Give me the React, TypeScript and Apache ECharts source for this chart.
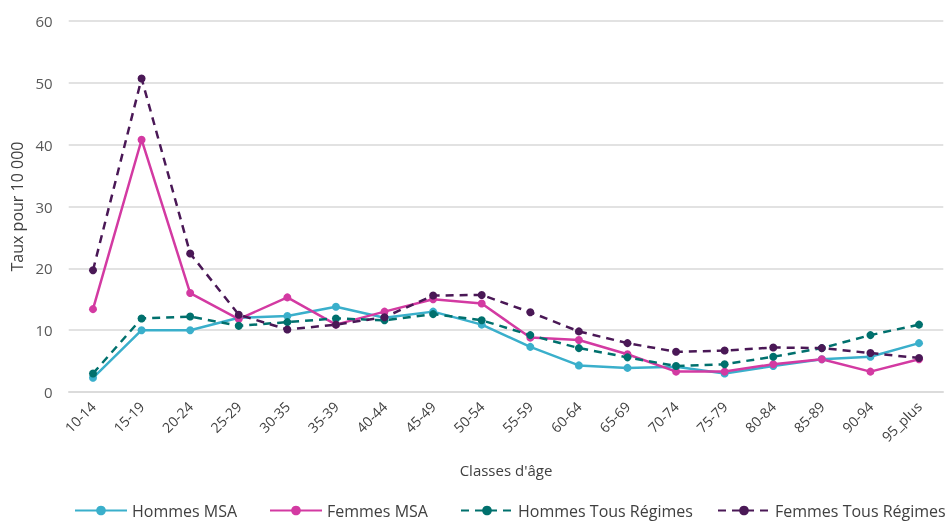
import React, { useEffect, useRef } from "react";
import * as echarts from "echarts";

const categories = ["10-14","15-19","20-24","25-29","30-35","35-39","40-44","45-49","50-54","55-59","60-64","65-69","70-74","75-79","80-84","85-89","90-94","95_plus"];
const hommesMSA = [2.3, 10.0, 10.0, 12.0, 12.3, 13.8, 12.0, 13.0, 10.9, 7.3, 4.3, 3.9, 4.1, 3.0, 4.2, 5.3, 5.7, 7.9];
const femmesMSA = [13.4, 40.8, 16.0, 11.8, 15.3, 10.9, 13.0, 15.0, 14.3, 8.8, 8.4, 6.1, 3.3, 3.3, 4.5, 5.3, 3.3, 5.3];
const hommesTR = [3.0, 11.9, 12.2, 10.7, 11.3, 11.9, 11.6, 12.6, 11.6, 9.2, 7.1, 5.6, 4.2, 4.5, 5.7, 7.1, 9.2, 10.9];
const femmesTR = [19.7, 50.7, 22.4, 12.5, 10.1, 10.9, 12.1, 15.6, 15.7, 12.9, 9.8, 7.9, 6.5, 6.7, 7.2, 7.1, 6.3, 5.5];
const yTicks = [0, 60, 10];

const FONT = "Open Sans";

export default function App() {
  const ref = useRef<HTMLDivElement>(null);
  useEffect(() => {
    if (!ref.current) return;
    const chart = echarts.init(ref.current, null, { renderer: "svg" });
    const mk = (name: string, data: number[], color: string, dashed: boolean) => ({
      name,
      type: "line",
      data,
      symbol: "circle",
      symbolSize: 8,
      itemStyle: { color },
      lineStyle: { color, width: 2.5, type: dashed ? [8, 6] : "solid" },
    });
    const legendBase = (left: number, name: string) => ({
      left,
      top: 502,
      padding: 0,
      data: [name],
      itemWidth: 52,
      itemHeight: 12,
      textStyle: { fontFamily: FONT, fontSize: 16, lineHeight: 17, color: "#404040" },
    });
    chart.setOption({
      animation: false,
      textStyle: { fontFamily: FONT },
      grid: { left: 68.7, right: 2.7, top: 21, bottom: 131, containLabel: false },
      legend: [
        legendBase(74, "Hommes MSA"),
        legendBase(269, "Femmes MSA"),
        legendBase(460, "Hommes Tous Régimes"),
        legendBase(717, "Femmes Tous Régimes"),
      ],
      xAxis: {
        type: "category",
        data: categories,
        boundaryGap: true,
        name: "Classes d'âge",
        nameLocation: "middle",
        nameGap: 70,
        nameTextStyle: { fontFamily: FONT, fontSize: 15, color: "#404040" },
        axisLine: { lineStyle: { color: "#D9D9D9", width: 1.5 } },
        axisTick: { show: false },
        axisLabel: { rotate: 45, margin: 12, fontFamily: FONT, fontSize: 14, color: "#404040", interval: 0 },
      },
      yAxis: {
        type: "value",
        min: yTicks[0],
        max: yTicks[1],
        interval: yTicks[2],
        name: "Taux pour 10 000",
        nameLocation: "middle",
        nameGap: 41,
        nameTextStyle: { fontFamily: FONT, fontSize: 16, color: "#404040" },
        axisLine: { show: false },
        axisTick: { show: false },
        axisLabel: { margin: 16, fontFamily: FONT, fontSize: 15, color: "#595959" },
        splitLine: { lineStyle: { color: "#D9D9D9", width: 1.5 } },
      },
      series: [
        mk("Hommes MSA", hommesMSA, "#3AAFCB", false),
        mk("Femmes MSA", femmesMSA, "#D33AA2", false),
        mk("Hommes Tous Régimes", hommesTR, "#00706D", true),
        mk("Femmes Tous Régimes", femmesTR, "#4A1856", true),
      ],
    });
    return () => chart.dispose();
  }, []);
  return <div ref={ref} style={{ position: "fixed", left: 0, top: 0, width: 946, height: 523 }} />;
}
